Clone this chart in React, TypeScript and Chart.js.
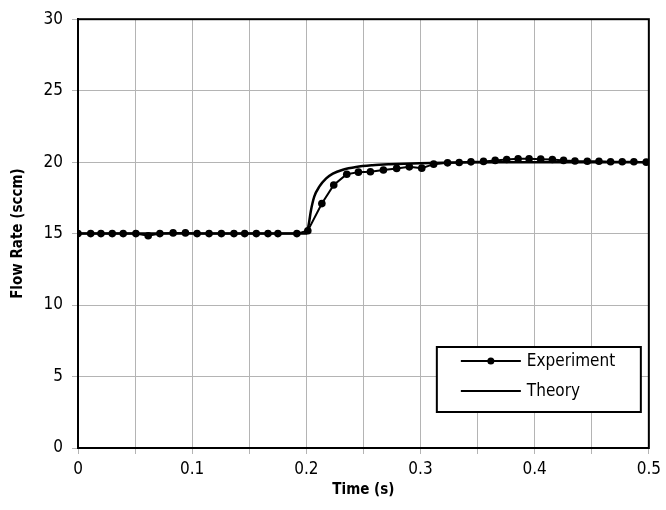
import React, { useEffect, useRef } from 'react';
import { Chart, registerables } from 'chart.js';

Chart.register(...registerables);

// Experiment series (time in s, flow in sccm)
const expTime = [
  0, 0.0111, 0.0201, 0.030, 0.0396, 0.0507, 0.0615, 0.0717, 0.0833, 0.0941,
  0.1043, 0.1148, 0.1256, 0.1366, 0.146, 0.1562, 0.1664, 0.1751, 0.1917, 0.2013,
  0.2136, 0.224, 0.2354, 0.2456, 0.2561, 0.2675, 0.2791, 0.2902, 0.3011, 0.3115,
  0.3237, 0.3339, 0.3442, 0.3552, 0.3654, 0.3755, 0.3855, 0.3951, 0.4053, 0.4155,
  0.4253, 0.4353, 0.4461, 0.4563, 0.4665, 0.4767, 0.4869, 0.4977,
];
const expFlow = [
  15.0, 15.0, 15.0, 15.0, 15.0, 15.0, 14.85, 15.0, 15.05, 15.05,
  15.0, 15.0, 15.0, 15.0, 15.0, 15.0, 15.0, 15.0, 15.0, 15.2,
  17.1, 18.4, 19.15, 19.3, 19.33, 19.45, 19.56, 19.67, 19.58, 19.86,
  19.95, 19.97, 20.02, 20.05, 20.12, 20.18, 20.24, 20.24, 20.21, 20.18,
  20.12, 20.08, 20.06, 20.06, 20.03, 20.03, 20.03, 20.0,
];

// Theory series
const theoryTime = [
  0, 0.1, 0.2, 0.202, 0.204, 0.207, 0.2115, 0.2174, 0.2232, 0.232,
  0.2436, 0.258, 0.273, 0.299, 0.33, 0.37, 0.42, 0.5,
];
const theoryFlow = [
  15.0, 15.0, 15.0, 15.6, 16.6, 17.6, 18.3, 18.86, 19.2, 19.47,
  19.66, 19.78, 19.85, 19.93, 19.98, 20.0, 20.0, 20.0,
];

const seriesLabels = ['Experiment', 'Theory'];
const xAxisTitle = 'Time (s)';
const yAxisTitle = 'Flow Rate (sccm)';

const FONT = '"DejaVu Sans Condensed", "Liberation Sans", sans-serif';

const framePlugin = {
  id: 'frame',
  beforeDatasetsDraw(chart: any) {
    const { ctx, chartArea } = chart;
    ctx.save();
    ctx.strokeStyle = '#000';
    ctx.lineWidth = 2;
    ctx.strokeRect(chartArea.left, chartArea.top, chartArea.right - chartArea.left, chartArea.bottom - chartArea.top);
    ctx.restore();
  },
};

const legendPlugin = {
  id: 'boxLegend',
  afterDraw(chart: any) {
    const { ctx, chartArea } = chart;
    const right = chartArea.right - 8;
    const bottom = chartArea.bottom - 36;
    const w = 204;
    const h = 65;
    const left = right - w;
    const top = bottom - h;
    ctx.save();
    ctx.fillStyle = '#fff';
    ctx.fillRect(left, top, w, h);
    ctx.strokeStyle = '#000';
    ctx.lineWidth = 2;
    ctx.strokeRect(left, top, w, h);
    chart.data.datasets.forEach((ds: any, i: number) => {
      const y = top + 14 + i * 30;
      const x0 = left + 24;
      const x1 = left + 84;
      ctx.strokeStyle = '#000';
      ctx.lineWidth = 2;
      ctx.beginPath();
      ctx.moveTo(x0, y);
      ctx.lineTo(x1, y);
      ctx.stroke();
      if (ds.pointRadius > 0) {
        ctx.fillStyle = '#000';
        ctx.beginPath();
        ctx.arc((x0 + x1) / 2, y, 3.5, 0, Math.PI * 2);
        ctx.fill();
      }
      ctx.fillStyle = '#000';
      ctx.font = `17px ${FONT}`;
      ctx.textAlign = 'left';
      ctx.textBaseline = 'middle';
      ctx.fillText(ds.label, x1 + 6, y + 1);
    });
    ctx.restore();
  },
};

export default function App() {
  const ref = useRef<HTMLCanvasElement | null>(null);

  useEffect(() => {
    if (!ref.current) return;
    const expData = expTime.map((t, i) => ({ x: t, y: expFlow[i] }));
    const thData = theoryTime.map((t, i) => ({ x: t, y: theoryFlow[i] }));
    const chart = new Chart(ref.current, {
      type: 'line',
      data: {
        datasets: [
          {
            label: seriesLabels[0],
            data: expData,
            borderColor: '#000',
            backgroundColor: '#000',
            borderWidth: 2,
            pointRadius: 3.8,
            pointBackgroundColor: '#000',
            pointBorderWidth: 0,
            tension: 0,
          },
          {
            label: seriesLabels[1],
            data: thData,
            borderColor: '#000',
            backgroundColor: '#000',
            borderWidth: 2.5,
            pointRadius: 0,
            tension: 0.3,
            cubicInterpolationMode: 'monotone',
          },
        ],
      },
      options: {
        responsive: false,
        animation: false,
        layout: { padding: { left: 0, right: 16, top: 19, bottom: 0 } },
        plugins: {
          legend: { display: false },
          tooltip: { enabled: false },
        },
        scales: {
          x: {
            type: 'linear',
            min: 0,
            max: 0.5,
            afterFit(scale: any) {
              scale.height = 62;
            },
            ticks: {
              stepSize: 0.05,
              autoSkip: false,
              maxRotation: 0,
              color: '#000',
              padding: 5,
              font: { family: FONT, size: 17 },
              callback: (v: any) => {
                const r = Math.round(Number(v) * 100);
                return r % 10 === 0 ? String(r / 100) : '';
              },
            },
            grid: { color: '#b4b4b4', lineWidth: 1, tickLength: 6 },
            border: { display: true, color: '#000', width: 2 },
            title: {
              display: true,
              text: xAxisTitle,
              color: '#000',
              font: { family: FONT, size: 15, weight: 'bold' },
              padding: { top: 0, bottom: 11 },
            },
          },
          y: {
            min: 0,
            max: 30,
            afterFit(scale: any) {
              scale.width = 78;
            },
            ticks: {
              stepSize: 5,
              color: '#000',
              padding: 9,
              font: { family: FONT, size: 17 },
            },
            grid: { color: '#b4b4b4', lineWidth: 1, tickLength: 6 },
            border: { display: true, color: '#000', width: 2 },
            title: {
              display: true,
              text: yAxisTitle,
              color: '#000',
              font: { family: FONT, size: 15, weight: 'bold' },
              padding: { top: 9, bottom: 0 },
            },
          },
        },
      } as any,
      plugins: [framePlugin, legendPlugin],
    });
    return () => chart.destroy();
  }, []);

  return (
    <div style={{ position: 'absolute', left: 0, top: 0, width: 666, height: 510, background: '#fff' }}>
      <canvas ref={ref} width={666} height={510} style={{ display: 'block' }} />
    </div>
  );
}
